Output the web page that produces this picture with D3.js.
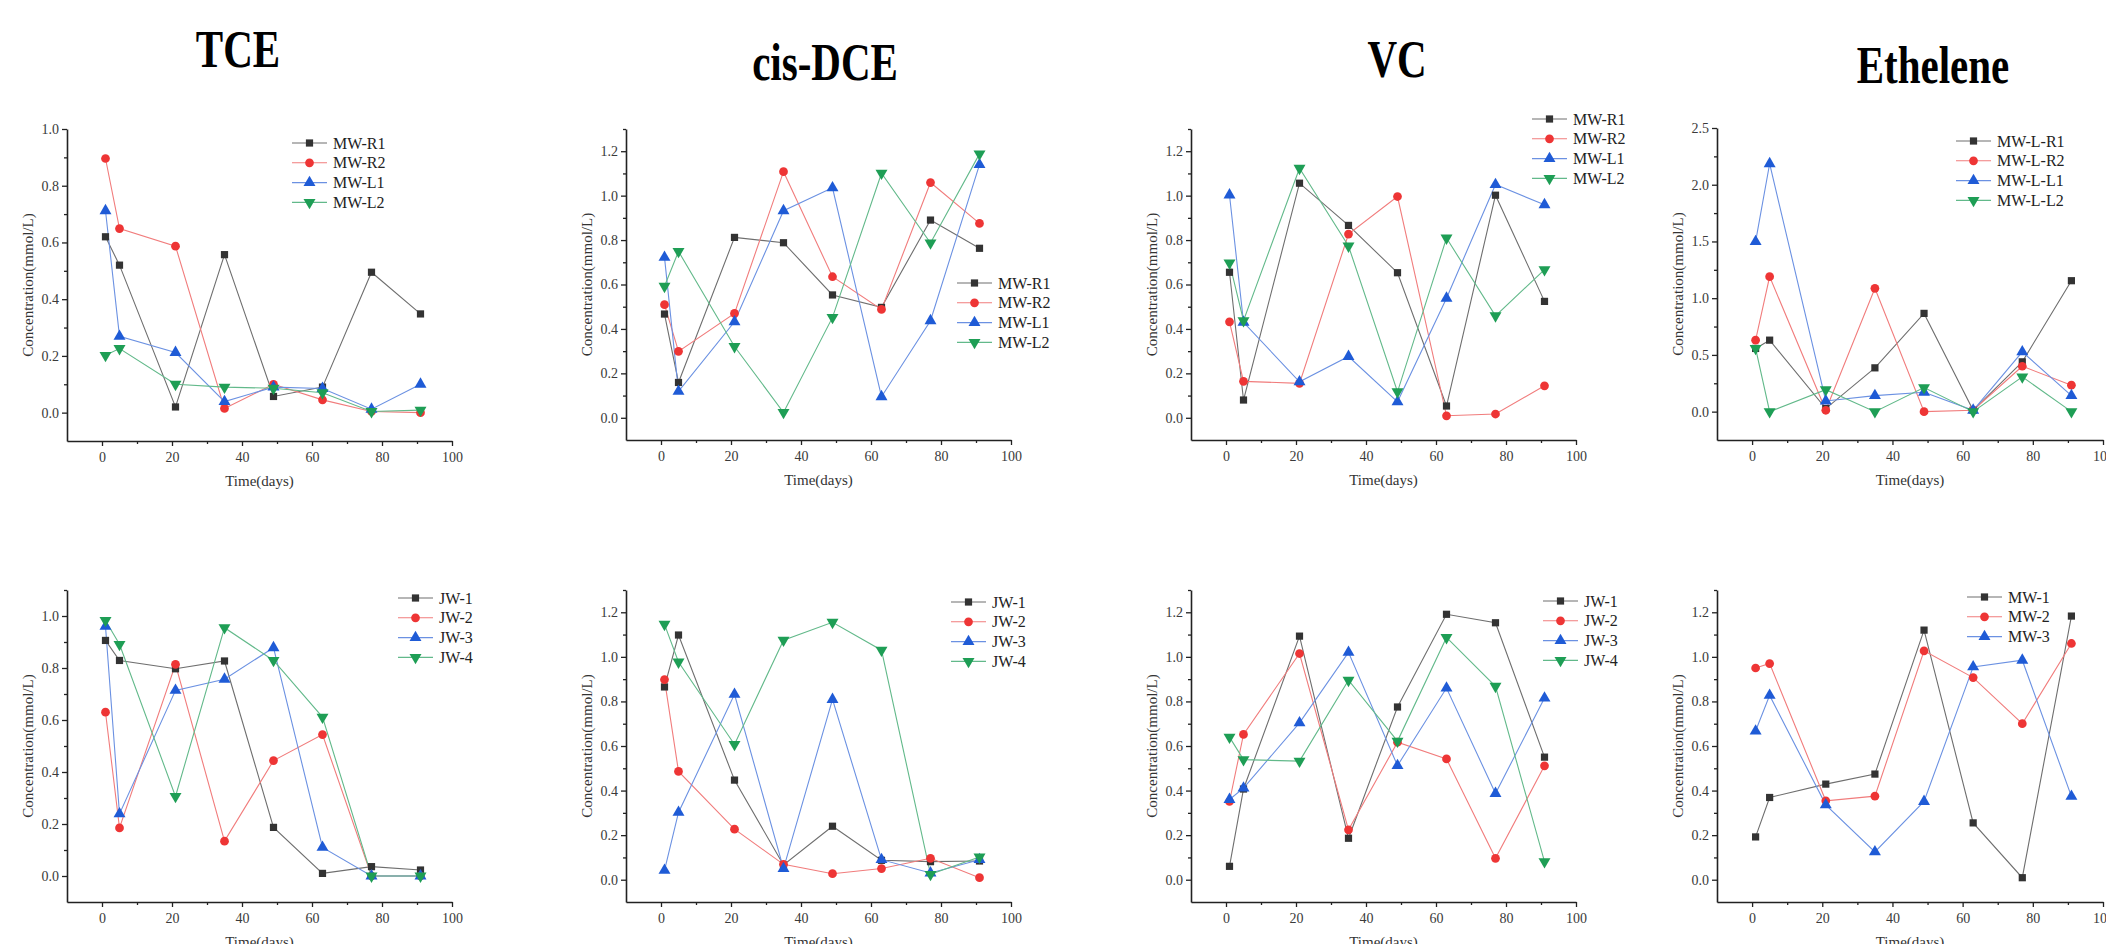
<!DOCTYPE html>
<html>
<head>
<meta charset="utf-8">
<script src="https://cdn.jsdelivr.net/npm/d3@7"></script>
<style>
  body { margin: 0; background: #fff; }
  svg { display: block; }
  svg text { font-family: "Liberation Serif", "Times New Roman", serif; }
</style>
</head>
<body>
<svg id="chart" width="2106" height="944"></svg>
<script>
// sampling days, same for every panel
const days = [1, 5, 21, 35, 49, 63, 77, 91];

const titles = ["TCE", "cis-DCE", "VC", "Ethelene"];

const mwNames = ["MW-R1", "MW-R2", "MW-L1", "MW-L2"];
const ethNames = ["MW-L-R1", "MW-L-R2", "MW-L-L1", "MW-L-L2"];
const jwNames = ["JW-1", "JW-2", "JW-3", "JW-4"];
const mwBotNames = ["MW-1", "MW-2", "MW-3"];

// top row
const tceMW = [
  [0.62, 0.52, 0.02, 0.557, 0.057, 0.09, 0.495, 0.348],
  [0.896, 0.649, 0.587, 0.015, 0.10, 0.045, 0.004, 0.0],
  [0.712, 0.269, 0.212, 0.039, 0.09, 0.085, 0.012, 0.10],
  [0.202, 0.226, 0.10, 0.09, 0.086, 0.07, 0.004, 0.009]
];
const dceMW = [
  [0.467, 0.159, 0.812, 0.788, 0.553, 0.497, 0.890, 0.763],
  [0.509, 0.299, 0.470, 1.108, 0.635, 0.488, 1.059, 0.875],
  [0.722, 0.119, 0.432, 0.932, 1.035, 0.095, 0.437, 1.140],
  [0.592, 0.749, 0.321, 0.024, 0.452, 1.101, 0.787, 1.188]
];
const vcMW = [
  [0.655, 0.080, 1.056, 0.866, 0.653, 0.053, 1.002, 0.524],
  [0.432, 0.164, 0.155, 0.827, 0.996, 0.009, 0.017, 0.144],
  [1.003, 0.430, 0.162, 0.276, 0.072, 0.538, 1.050, 0.959],
  [0.697, 0.437, 1.123, 0.773, 0.117, 0.809, 0.459, 0.667]
];
const ethMW = [
  [0.557, 0.63, 0.027, 0.386, 0.866, 0.012, 0.439, 1.154],
  [0.63, 1.19, 0.012, 1.087, 0.0, 0.012, 0.40, 0.233],
  [1.499, 2.185, 0.094, 0.141, 0.171, 0.012, 0.527, 0.141],
  [0.557, 0.0, 0.194, 0.0, 0.212, 0.0, 0.306, 0.0]
];

// bottom row
const tceJW = [
  [0.906, 0.829, 0.797, 0.827, 0.187, 0.010, 0.036, 0.023],
  [0.630, 0.185, 0.814, 0.134, 0.444, 0.544, 0.0, 0.0],
  [0.960, 0.239, 0.714, 0.757, 0.878, 0.110, 0.0, 0.0],
  [0.983, 0.891, 0.306, 0.955, 0.829, 0.611, 0.0, 0.0]
];
const dceJW = [
  [0.865, 1.098, 0.447, 0.066, 0.240, 0.087, 0.081, 0.084],
  [0.898, 0.486, 0.227, 0.069, 0.027, 0.050, 0.096, 0.009],
  [0.042, 0.302, 0.832, 0.050, 0.809, 0.090, 0.030, 0.090],
  [1.146, 0.977, 0.607, 1.075, 1.155, 1.030, 0.024, 0.102]
];
const vcJW = [
  [0.060, 0.407, 1.093, 0.186, 0.775, 1.191, 1.153, 0.550],
  [0.351, 0.652, 1.015, 0.224, 0.617, 0.542, 0.096, 0.511],
  [0.360, 0.411, 0.704, 1.020, 0.512, 0.860, 0.387, 0.815],
  [0.640, 0.539, 0.532, 0.895, 0.622, 1.087, 0.868, 0.081]
];
const ethBot = [
  [0.192, 0.369, 0.429, 0.474, 1.120, 0.255, 0.009, 1.183],
  [0.950, 0.970, 0.354, 0.375, 1.027, 0.907, 0.700, 1.060],
  [0.667, 0.827, 0.336, 0.125, 0.351, 0.955, 0.985, 0.374]
];

const xTicks = [0, 20, 40, 60, 80, 100];
const xMinor = [10, 30, 50, 70, 90];

const markerColors = ["#333333", "#ee3535", "#1f5bd6", "#1e9e55"];
const lineColors = ["#6e6e6e", "#f17c7c", "#6b91e2", "#62b98a"];
const shapes = [d3.symbolSquare, d3.symbolCircle, d3.symbolTriangle, "down"];

// panel frames: left/right are x = -10 and x = 100
const panels = [
  { names: mwNames, data: tceMW, left: 67, right: 452, top: 129, bottom: 441, yMax: 1.0, yMin: -0.1, step: 0.2, leg: [292, 143] },
  { names: mwNames, data: dceMW, left: 626, right: 1011, top: 129, bottom: 440, yMax: 1.3, yMin: -0.1, step: 0.2, leg: [957, 283] },
  { names: mwNames, data: vcMW, left: 1191, right: 1576, top: 129, bottom: 440, yMax: 1.3, yMin: -0.1, step: 0.2, leg: [1532, 119] },
  { names: ethNames, data: ethMW, left: 1717, right: 2103, top: 128, bottom: 440, yMax: 2.5, yMin: -0.25, step: 0.5, leg: [1956, 141] },
  { names: jwNames, data: tceJW, left: 67, right: 452, top: 590, bottom: 902, yMax: 1.1, yMin: -0.1, step: 0.2, leg: [398, 598] },
  { names: jwNames, data: dceJW, left: 626, right: 1011, top: 590, bottom: 902, yMax: 1.3, yMin: -0.1, step: 0.2, leg: [951, 602] },
  { names: jwNames, data: vcJW, left: 1191, right: 1576, top: 590, bottom: 902, yMax: 1.3, yMin: -0.1, step: 0.2, leg: [1543, 601] },
  { names: mwBotNames, data: ethBot, left: 1717, right: 2103, top: 590, bottom: 902, yMax: 1.3, yMin: -0.1, step: 0.2, leg: [1967, 597] }
];

const titlePos = [[238, 67], [825, 80], [1397, 77], [1933, 83]];

const svg = d3.select("#chart");

function drawMarker(g, i, x, y) {
  const size = i === 1 ? 60 : (i === 0 ? 52 : 62);
  const type = shapes[i] === "down" ? d3.symbolTriangle : shapes[i];
  g.append("path")
      .attr("d", d3.symbol().type(type).size(size)())
      .attr("transform", `translate(${x},${y})` + (shapes[i] === "down" ? " rotate(180)" : ""))
      .attr("fill", markerColors[i]);
}

// titles
titles.forEach((t, i) => {
  svg.append("text")
      .attr("transform", `translate(${titlePos[i][0]},${titlePos[i][1]}) scale(1,1.28)`)
      .attr("text-anchor", "middle")
      .attr("font-size", 41)
      .attr("font-weight", "bold")
      .attr("fill", "#000")
      .text(t);
});

panels.forEach(p => {
  const x = d3.scaleLinear().domain([-10, 100]).range([p.left, p.right]);
  const y = d3.scaleLinear().domain([p.yMin, p.yMax]).range([p.bottom, p.top]);
  const g = svg.append("g");

  const major = d3.range(0, p.yMax + 1e-9, p.step);
  const minor = d3.range(p.step / 2, p.yMax + 1e-9, p.step);

  // y axis
  g.append("g")
      .attr("transform", `translate(${p.left},0)`)
      .call(d3.axisLeft(y).tickValues(minor).tickSize(3).tickFormat(""))
      .call(a => a.select(".domain").remove());
  g.append("g")
      .attr("transform", `translate(${p.left},0)`)
      .call(d3.axisLeft(y).tickValues(major).tickSize(5).tickSizeOuter(0).tickPadding(3)
        .tickFormat(d3.format(".1f")));

  // x axis
  g.append("g")
      .attr("transform", `translate(0,${p.bottom})`)
      .call(d3.axisBottom(x).tickValues(xMinor).tickSize(3).tickFormat(""))
      .call(a => a.select(".domain").remove());
  g.append("g")
      .attr("transform", `translate(0,${p.bottom})`)
      .call(d3.axisBottom(x).tickValues(xTicks).tickSize(5).tickSizeOuter(0).tickPadding(6));

  g.selectAll("g").attr("font-family", "Liberation Serif");
  g.selectAll(".domain").attr("stroke", "#222").attr("stroke-width", 1.6);
  g.selectAll(".tick line").attr("stroke", "#222").attr("stroke-width", 1.3);
  g.selectAll(".tick text")
      .attr("font-size", 14)
      .attr("fill", "#3a3a3a");

  // axis titles
  g.append("text")
      .attr("transform", `translate(${p.left - 34},${(p.top + p.bottom) / 2}) rotate(-90)`)
      .attr("text-anchor", "middle")
      .attr("font-size", 15)
      .attr("fill", "#333")
      .text("Concentration(mmol/L)");
  g.append("text")
      .attr("x", (p.left + p.right) / 2)
      .attr("y", p.bottom + 45)
      .attr("text-anchor", "middle")
      .attr("font-size", 15)
      .attr("fill", "#333")
      .text("Time(days)");

  // series
  const line = d3.line().x((d, j) => x(days[j])).y(d => y(d));
  p.data.forEach((vals, i) => {
    g.append("path")
        .attr("d", line(vals))
        .attr("fill", "none")
        .attr("stroke", lineColors[i])
        .attr("stroke-width", 1.1);
  });
  p.data.forEach((vals, i) => {
    vals.forEach((v, j) => drawMarker(g, i, x(days[j]), y(v)));
  });

  // legend
  const [lx, ly] = p.leg;
  p.names.forEach((n, i) => {
    const yy = ly + i * 19.8;
    g.append("line")
        .attr("x1", lx).attr("x2", lx + 35)
        .attr("y1", yy).attr("y2", yy)
        .attr("stroke", lineColors[i])
        .attr("stroke-width", 1.1);
    drawMarker(g, i, lx + 17.5, yy);
    g.append("text")
        .attr("x", lx + 41)
        .attr("y", yy)
        .attr("dy", "0.35em")
        .attr("font-size", 16)
        .attr("fill", "#222")
        .text(n);
  });
});
</script>
</body>
</html>
